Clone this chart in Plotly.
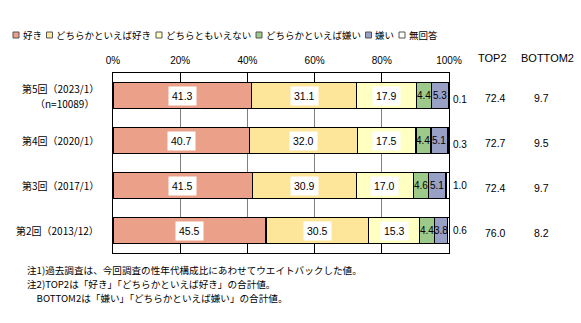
import plotly.graph_objects as go

# ---------------- data ----------------
surveys = ["第5回（2023/1）", "第4回（2020/1）", "第3回（2017/1）", "第2回（2013/12）"]
survey_sub = ["（n=10089）", "", "", ""]
answers = ["好き", "どちらかといえば好き", "どちらともいえない", "どちらかといえば嫌い", "嫌い", "無回答"]
like = [41.3, 40.7, 41.5, 45.5]
rather_like = [31.1, 32.0, 30.9, 30.5]
neutral = [17.9, 17.5, 17.0, 15.3]
rather_dislike = [4.4, 4.4, 4.6, 4.4]
dislike = [5.3, 5.1, 5.1, 3.8]
no_answer = [0.1, 0.3, 1.0, 0.6]
top2 = [72.4, 72.7, 72.4, 76.0]
bottom2 = [9.7, 9.5, 9.7, 8.2]
x_ticks = [0, 20, 40, 60, 80, 100]
x_ticklabels = ["0%", "20%", "40%", "60%", "80%", "100%"]
notes = [
    "注1)過去調査は、今回調査の性年代構成比にあわせてウエイトバックした値。",
    "注2)TOP2は「好き」「どちらかといえば好き」の合計値。",
    "　BOTTOM2は「嫌い」「どちらかといえば嫌い」の合計値。",
]

# ---------------- styles ----------------
colors = ["#EBA08A", "#FDE69A", "#FFFFC2", "#9DC98B", "#99A0C6", "#FFFFFF"]
W, H = 581, 323
L, R, T, B = 113, 449, 73, 253
JP = "Noto Sans CJK JP"
AR = "Liberation Sans"
LEG_FS = 9.5


def fx(px):
    return (px - L) / (R - L)


def fy(py):
    return (B - py) / (B - T)


series = [like, rather_like, neutral, rather_dislike, dislike, no_answer]

fig = go.Figure()
for name, vals, col in zip(answers, series, colors):
    fig.add_trace(go.Bar(
        y=surveys, x=vals, name=name, orientation="h",
        marker=dict(color=col, line=dict(color="#000000", width=1.3)),
        showlegend=False, hoverinfo="x+name",
    ))

annotations = []
for i, s in enumerate(surveys):
    cum = 0.0
    for k, vals in enumerate(series):
        v = vals[i]
        mid = cum + v / 2
        cum += v
        if k <= 2:
            annotations.append(dict(
                x=mid, y=s, xref="x", yref="y", text=f"{v:.1f}", showarrow=False,
                xanchor="center", yanchor="middle",
                font=dict(family=AR, size=10.5, color="#000"), bgcolor="#FFFFFF",
                borderpad=3,
            ))
        elif k <= 4:
            annotations.append(dict(
                x=mid, y=s, xref="x", yref="y", text=f"{v:.1f}", showarrow=False,
                xanchor="center", yanchor="middle",
                font=dict(family=AR, size=10, color="#000"),
            ))
        else:
            annotations.append(dict(
                x=fx(451), y=s, xref="paper", yref="y", text=f"{v:.1f}", showarrow=False,
                xanchor="left", yanchor="middle", yshift=-4 if i in (0, 1) else 0,
                font=dict(family=AR, size=10, color="#000"),
            ))
    # TOP2 / BOTTOM2
    annotations.append(dict(x=fx(495), y=s, xref="paper", yref="y", text=f"{top2[i]:.1f}",
                            showarrow=False, xanchor="center", yanchor="middle", yshift=-2,
                            font=dict(family=AR, size=10.5, color="#000")))
    annotations.append(dict(x=fx(541), y=s, xref="paper", yref="y", text=f"{bottom2[i]:.1f}",
                            showarrow=False, xanchor="center", yanchor="middle", yshift=-2,
                            font=dict(family=AR, size=10.5, color="#000")))
    # category label (one or two lines, centred on each other)
    if survey_sub[i]:
        annotations.append(dict(x=fx(101), y=s, xref="paper", yref="y", text=s, showarrow=False,
                                xanchor="right", yanchor="middle", yshift=7.5,
                                font=dict(family=JP, size=10, color="#000")))
        annotations.append(dict(x=fx(64), y=s, xref="paper", yref="y", text=survey_sub[i],
                                showarrow=False, xanchor="center", yanchor="middle", yshift=-7.5,
                                font=dict(family=JP, size=10, color="#000")))
    else:
        annotations.append(dict(x=fx(101), y=s, xref="paper", yref="y", text=s, showarrow=False,
                                xanchor="right", yanchor="middle",
                                font=dict(family=JP, size=10, color="#000")))

# column headers
annotations.append(dict(x=fx(492), y=fy(58), xref="paper", yref="paper", text="TOP2", showarrow=False,
                        xanchor="center", yanchor="middle",
                        font=dict(family=AR, size=11, color="#000")))
annotations.append(dict(x=fx(547), y=fy(58), xref="paper", yref="paper", text="BOTTOM2", showarrow=False,
                        xanchor="center", yanchor="middle",
                        font=dict(family=AR, size=11, color="#000")))

# legend (squares + text), laid out left to right
shapes = []
lx = 13.0
for name, col in zip(answers, colors):
    shapes.append(dict(type="rect", xref="paper", yref="paper",
                       x0=fx(lx), x1=fx(lx + 6), y0=fy(38), y1=fy(32),
                       fillcolor=col, line=dict(color="#555555", width=1)))
    annotations.append(dict(x=fx(lx + 7.5), y=fy(35), xref="paper", yref="paper", text=name,
                            showarrow=False, xanchor="left", yanchor="middle",
                            font=dict(family=JP, size=LEG_FS, color="#000")))
    lx += 7.5 + len(name) * LEG_FS + 7

# notes
note_pos = [(25, 270), (25, 284), (25, 298)]
for txt, (nx, ny) in zip(notes, note_pos):
    annotations.append(dict(x=fx(nx), y=fy(ny), xref="paper", yref="paper", text=txt,
                            showarrow=False, xanchor="left", yanchor="middle",
                            font=dict(family=JP, size=9.6, color="#000")))

fig.update_layout(
    width=W, height=H,
    margin=dict(l=L, r=W - R, t=T, b=H - B),
    barmode="stack", bargap=0.41,
    plot_bgcolor="#FFFFFF", paper_bgcolor="#FFFFFF",
    showlegend=False,
    annotations=annotations, shapes=shapes,
    xaxis=dict(range=[0, 100], side="top", tickvals=x_ticks, ticktext=x_ticklabels,
               showgrid=True, gridcolor="#808080", gridwidth=1,
               showline=True, linecolor="#000", linewidth=1.3, mirror="ticks",
               ticks="inside", ticklen=9, tickcolor="#000", tickwidth=1,
               ticklabelstandoff=4,
               tickfont=dict(family=AR, size=10, color="#000"), zeroline=False, fixedrange=True),
    yaxis=dict(autorange="reversed", showticklabels=False, showgrid=False,
               showline=True, linecolor="#000", linewidth=1.3, mirror=True, ticks="", fixedrange=True),
)

fig.write_html("out.html")
